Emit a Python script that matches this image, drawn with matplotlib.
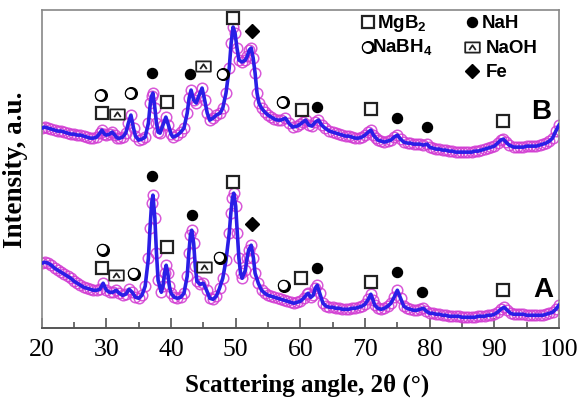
#!/usr/bin/env python3
"""
Difractogramas de rayos X de las muestras A y B con las fases identificadas.
"""

import matplotlib
matplotlib.use('Agg')
import matplotlib.pyplot as plt
import matplotlib.transforms as mtransforms
from matplotlib.path import Path
import numpy as np

# Curva A (angulo 2theta, intensidad en u.a.)
angle_a = [20.0, 20.5, 21.0, 21.5, 22.0, 22.5, 23.0, 23.5, 24.0, 24.5, 25.0, 25.5,
           26.0, 26.5, 27.0, 27.5, 28.0, 28.5, 29.0, 29.5, 30.0, 30.5, 31.0, 31.5,
           32.0, 32.5, 33.0, 33.5, 34.0, 34.5, 35.0, 35.5, 36.0, 36.5, 36.75, 37.0,
           37.2, 37.5, 37.75, 38.0, 38.5, 38.75, 39.0, 39.25, 39.5, 39.75, 40.0, 40.5,
           41.0, 41.5, 42.0, 42.5, 42.75, 43.0, 43.2, 43.5, 43.75, 44.0, 44.5, 45.0,
           45.5, 46.0, 46.5, 47.0, 47.5, 48.0, 48.5, 49.0, 49.25, 49.5, 49.7, 50.0,
           50.25, 50.5, 50.75, 51.0, 51.5, 51.75, 52.0, 52.4, 52.75, 53.0, 53.5, 54.0,
           54.5, 55.0, 55.5, 56.0, 56.5, 57.0, 57.5, 58.0, 58.5, 59.0, 59.5, 60.0,
           60.5, 61.0, 61.2, 61.6, 62.0, 62.3, 62.6, 63.0, 63.5, 64.0, 64.5, 65.0,
           65.5, 66.0, 66.5, 67.0, 67.5, 68.0, 68.5, 69.0, 69.5, 70.0, 70.5, 70.9,
           71.25, 71.5, 72.0, 72.5, 73.0, 73.5, 74.0, 74.5, 75.0, 75.5, 76.0, 76.5,
           77.0, 77.5, 78.0, 78.5, 79.0, 79.5, 80.0, 80.5, 81.0, 81.5, 82.0, 82.5,
           83.0, 83.5, 84.0, 84.5, 85.0, 85.5, 86.0, 86.5, 87.0, 87.5, 88.0, 88.5,
           89.0, 89.5, 90.0, 90.5, 91.0, 91.5, 92.0, 92.5, 93.0, 93.5, 94.0, 94.5,
           95.0, 95.5, 96.0, 96.5, 97.0, 97.5, 98.0, 98.5, 99.0, 99.5, 100.0]
int_a = [65, 66, 65, 63, 60, 58, 56, 54, 52, 50, 47, 45,
         43, 41, 40, 39, 38, 38, 39, 45, 38, 36, 36, 38,
         35, 33, 34, 39, 36, 31, 30, 33, 42, 70, 100, 125,
         133, 110, 75, 48, 36, 42, 55, 63, 55, 42, 35, 31,
         30, 31, 35, 52, 75, 93, 98, 85, 62, 47, 44, 45,
         38, 30, 29, 32, 40, 50, 68, 95, 115, 130, 135, 122,
         95, 70, 55, 50, 58, 70, 78, 83, 70, 55, 45, 38,
         35, 33, 32, 31, 30, 29, 28, 27, 26, 25, 26, 27,
         30, 34, 35, 31, 33, 40, 43, 35, 25, 22, 21, 21,
         20, 20, 19, 19, 19, 20, 20, 21, 22, 24, 29, 34,
         28, 23, 20, 19, 20, 22, 25, 31, 38, 30, 22, 20,
         19, 18, 18, 19, 20, 17, 15, 15, 14, 14, 13, 13,
         12, 12, 12, 12, 11, 11, 11, 11, 11, 12, 12, 12,
         13, 13, 14, 16, 19, 21, 18, 15, 14, 14, 14, 14,
         13, 13, 13, 13, 13, 13, 14, 15, 16, 19, 23]

# Curva B
angle_b = [20.0, 20.5, 21.0, 21.5, 22.0, 22.5, 23.0, 23.5, 24.0, 24.5, 25.0, 25.5,
           26.0, 26.5, 27.0, 27.5, 28.0, 28.5, 29.0, 29.3, 29.7, 30.0, 30.5, 30.9,
           31.3, 31.7, 32.1, 32.5, 33.0, 33.4, 33.8, 34.2, 34.5, 35.0, 35.5, 36.0,
           36.5, 36.8, 37.0, 37.2, 37.5, 37.75, 38.0, 38.3, 38.75, 39.2, 39.6, 40.0,
           40.3, 41.0, 41.5, 42.0, 42.5, 42.8, 43.1, 43.5, 43.9, 44.3, 44.8, 45.2,
           45.6, 46.0, 46.5, 47.0, 47.6, 48.0, 48.5, 49.0, 49.3, 49.6, 49.9, 50.2,
           50.5, 51.0, 51.5, 51.8, 52.1, 52.4, 52.7, 53.0, 53.3, 53.6, 54.0, 54.5,
           55.0, 55.5, 56.0, 56.5, 57.0, 57.7, 58.2, 58.8, 59.5, 60.0, 60.4, 60.8,
           61.3, 61.8, 62.3, 62.8, 63.3, 63.8, 64.5, 65.0, 65.5, 66.0, 66.5, 67.0,
           67.5, 68.0, 68.5, 69.0, 69.5, 70.0, 70.5, 70.9, 71.3, 71.7, 72.0, 72.5,
           73.0, 73.5, 74.0, 74.5, 75.0, 75.5, 76.0, 76.6, 77.0, 77.5, 78.0, 78.5,
           79.0, 79.6, 80.0, 80.5, 81.0, 81.5, 82.0, 82.5, 83.0, 83.5, 84.0, 84.5,
           85.0, 85.5, 86.0, 86.5, 87.0, 87.5, 88.0, 88.5, 89.0, 89.5, 90.0, 90.5,
           91.0, 91.4, 91.8, 92.3, 93.0, 93.5, 94.0, 94.5, 95.0, 95.5, 96.0, 96.5,
           97.0, 97.5, 98.0, 98.5, 99.0, 99.5, 100.0]
int_b = [200, 201, 200, 199, 198, 197, 197, 196, 195, 194, 194, 193,
         193, 192, 191, 190, 190, 191, 195, 198, 194, 193, 194, 196,
         193, 190, 190, 191, 195, 205, 213, 200, 192, 188, 189, 191,
         205, 225, 232, 235, 220, 205, 196, 195, 203, 211, 203, 194,
         191, 193, 196, 200, 215, 230, 238, 228, 225, 232, 240, 228,
         215, 208, 210, 213, 215, 220, 235, 260, 285, 301, 295, 280,
         268, 266, 268, 272, 278, 280, 270, 255, 235, 225, 220, 216,
         213, 211, 209, 208, 208, 210, 205, 201, 202, 204, 206, 208,
         203, 202, 206, 208, 203, 200, 197, 196, 195, 194, 193, 192,
         192, 191, 190, 190, 191, 193, 196, 198, 193, 190, 188, 187,
         186, 187, 188, 191, 193, 189, 186, 185, 185, 184, 184, 184,
         183, 184, 181, 180, 179, 179, 178, 178, 177, 177, 176, 176,
         176, 176, 176, 176, 177, 177, 178, 179, 180, 181, 182, 185,
         188, 189, 186, 183, 181, 181, 181, 181, 182, 182, 182, 182,
         183, 184, 185, 187, 190, 197, 203]

# Posiciones de los simbolos de fase (angulo, altura) para cada curva
mgb2_x = [29.4, 39.4, 49.6, 60.1, 70.9, 91.3, 29.3, 39.4, 49.6, 60.2, 70.9, 91.3]
mgb2_y = [60, 81, 146, 50, 46, 38, 215, 226, 310, 218, 219, 207]
nah_x = [37.1, 43.2, 62.6, 74.9, 78.8, 37.1, 43.0, 62.6, 74.9, 79.6]
nah_y = [152, 113, 60, 56, 36, 255, 254, 221, 210, 201]
nabh4_x = [29.3, 34.1, 47.4, 57.3, 29.0, 33.6, 47.9, 57.2]
nabh4_y = [79, 55, 71, 43, 233, 235, 254, 226]
naoh_x = [31.5, 45.1, 31.6, 44.9]
naoh_y = [53, 61, 214, 262]
fe_x = [52.5, 52.5]
fe_y = [104, 297]

# Marcador NaOH: rectangulo con un angulo "^" dentro
naoh_marker = Path(
    [(-1.0, -0.7), (1.0, -0.7), (1.0, 0.7), (-1.0, 0.7), (-1.0, -0.7),
     (-0.45, -0.35), (0.0, 0.3), (0.45, -0.35)],
    [Path.MOVETO, Path.LINETO, Path.LINETO, Path.LINETO, Path.CLOSEPOLY,
     Path.MOVETO, Path.LINETO, Path.LINETO])

SANS = 'Liberation Sans'
SERIF = 'Liberation Serif'
plt.rcParams['mathtext.fontset'] = 'custom'
plt.rcParams['mathtext.rm'] = 'Liberation Sans:bold'
plt.rcParams['mathtext.bf'] = 'Liberation Sans:bold'


def draw_nabh4(ax, x, y, size):
    """Circulo abierto con sombra a la derecha, como en la figura original."""
    shadow = mtransforms.offset_copy(ax.transData, fig=ax.figure, x=1.2, y=-0.3, units='dots')
    ax.plot(x, y, 'o', ms=size, mfc='black', mec='black', mew=1.0,
            transform=shadow, zorder=5)
    ax.plot(x, y, 'o', ms=size - 1.0, mfc='white', mec='black', mew=0.9, zorder=6)


def draw_phase_markers(ax):
    ax.plot(mgb2_x, mgb2_y, 's', ms=8.6, mfc='white', mec='#222222', mew=1.6, zorder=6)
    ax.plot(nah_x, nah_y, 'o', ms=7.2, color='black', zorder=6)
    draw_nabh4(ax, nabh4_x, nabh4_y, 8.4)
    ax.plot(naoh_x, naoh_y, marker=naoh_marker, ls='none', ms=10.5, mfc='white',
            mec='#222222', mew=1.3, zorder=6)
    ax.plot(fe_x, fe_y, 'D', ms=7.5, color='black', zorder=6)


def draw_legend(ax):
    """Leyenda escrita a mano en la esquina superior derecha."""
    fs = 13.5
    ax.plot([70.4], [306], 's', ms=8.6, mfc='white', mec='#222222', mew=1.6)
    ax.text(71.9, 305, r'MgB$_{2}$', family=SANS, weight='bold', fontsize=fs, va='center')
    draw_nabh4(ax, [70.3], [281], 8.4)
    ax.text(71.1, 280, r'NaBH$_{4}$', family=SANS, weight='bold', fontsize=fs, va='center')
    ax.plot([86.5], [306], 'o', ms=7.2, color='black')
    ax.text(88.1, 305, 'NaH', family=SANS, weight='bold', fontsize=fs, va='center')
    ax.plot([86.5], [281], marker=naoh_marker, ls='none', ms=10.5, mfc='white',
            mec='#222222', mew=1.3)
    ax.text(88.6, 280, 'NaOH', family=SANS, weight='bold', fontsize=fs, va='center')
    ax.plot([86.5], [257], 'D', ms=7.5, color='black')
    ax.text(88.6, 256, 'Fe', family=SANS, weight='bold', fontsize=fs, va='center')


def main():
    fig = plt.figure(figsize=(5.8, 4.05), dpi=100)
    ax = fig.add_axes([0.0719, 0.1894, 0.8919, 0.7859])

    for x, y in [(angle_a, int_a), (angle_b, int_b)]:
        # Datos experimentales (circulos) y ajuste (linea azul)
        ax.plot(x, y, 'o', ms=7.6, mfc='none', mec='#d23cd2', mew=1.1, alpha=0.85, zorder=2)
        ax.plot(x, y, '-', color='#2a1ee6', lw=2.6, zorder=3)

    draw_phase_markers(ax)
    draw_legend(ax)

    ax.text(97.5, 38, 'A', family=SANS, weight='bold', fontsize=20, ha='center', va='center')
    ax.text(97.3, 216, 'B', family=SANS, weight='bold', fontsize=20, ha='center', va='center')

    ax.set_xlim(20, 100)
    ax.set_ylim(0, 318)
    ax.set_xticks(np.arange(20, 101, 10))
    ax.set_xticks(np.arange(25, 100, 10), minor=True)
    ax.set_yticks([])
    ax.tick_params(axis='x', which='major', direction='in', length=7, width=1.2,
                   color='#555555', pad=8, labelsize=18.5)
    ax.tick_params(axis='x', which='minor', direction='in', length=4, width=1.2,
                   color='#555555')
    for lab in ax.get_xticklabels():
        lab.set_family(SERIF)
    for side in ['top', 'right', 'left']:
        ax.spines[side].set_color('#888888')
        ax.spines[side].set_linewidth(1.2)
    ax.spines['bottom'].set_color('#555555')
    ax.spines['bottom'].set_linewidth(1.4)

    fig.text(0.529, 0.049, 'Scattering angle, 2θ (°)', family=SERIF, weight='bold',
             fontsize=18, ha='center', va='center')
    fig.text(0.026, 0.58, 'Intensity, a.u.', family=SERIF, weight='bold',
             fontsize=19.5, ha='center', va='center', rotation=90)

    fig.savefig('out.png', dpi=100)


if __name__ == '__main__':
    main()
